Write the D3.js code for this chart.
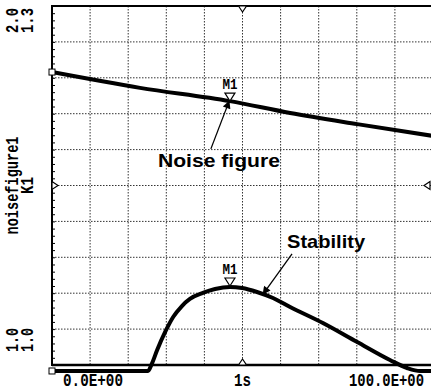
<!DOCTYPE html>
<html>
<head>
<meta charset="utf-8">
<script src="https://cdn.jsdelivr.net/npm/d3@7"></script>
<style>
  body { margin: 0; background: #fff; }
  svg { display: block; }
</style>
</head>
<body>
<svg id="chart"></svg>
<script>
// values (x in percent of the sweep)
var sweepX = [0, 25.2, 26.2, 27.6, 29.7, 31.8, 34.1, 36.2, 39.6, 42.8, 46.7, 49.9, 53.8, 58.0, 62.5, 71.1, 80.1, 88.7, 93.2, 96.6, 100]
var stabilityK = [0.995, 0.995, 1.001, 1.0125, 1.0276, 1.0401, 1.0493, 1.0552, 1.0602, 1.0635, 1.0652, 1.0643, 1.0610, 1.0560, 1.0485, 1.0351, 1.0192, 1.0042, 0.9975, 0.995, 0.995]
var noiseX = [0, 23.1, 46.7, 62.5, 80.1, 100]
var noiseNF = [1.816, 1.772, 1.735, 1.702, 1.671, 1.638]
var markerX = 46.7
var xTickValues = [0, 50, 100]
var xTickLabels = ["0.0E+00", "1s", "100.0E+00"]
var nfLabels = ["1.0", "2.0"]
var kLabels = ["1.0", "1.3"]

var width = 431
var height = 392
var dims = { left: 52, right: 433, top: 6, bottom: 365 }

var svg = d3.select("#chart")
  .attr("width", width)
  .attr("height", height)

var x = d3.scaleLinear().domain([0, 100]).range([dims.left, dims.right])
var yNF = d3.scaleLinear().domain([1, 2]).range([dims.bottom, dims.top])
var yK = d3.scaleLinear().domain([1, 1.3]).range([dims.bottom, dims.top])

// grid
svg.append("g").selectAll("line")
  .data(d3.range(10, 100, 10))
  .enter().append("line")
  .attr("x1", d => x(d)).attr("x2", d => x(d))
  .attr("y1", dims.top).attr("y2", dims.bottom)
  .attr("stroke", "#333").attr("stroke-width", 1)
  .attr("stroke-dasharray", "1.5,1.5")

svg.append("g").selectAll("line")
  .data(d3.range(1.1, 2.0, 0.1))
  .enter().append("line")
  .attr("x1", dims.left).attr("x2", width)
  .attr("y1", d => yNF(d)).attr("y2", d => yNF(d))
  .attr("stroke", "#333").attr("stroke-width", 1)
  .attr("stroke-dasharray", "1.5,1.5")

// frame
svg.append("line").attr("x1", dims.left).attr("x2", width)
  .attr("y1", dims.top).attr("y2", dims.top)
  .attr("stroke", "#000").attr("stroke-width", 2)
svg.append("line").attr("x1", dims.left).attr("x2", width)
  .attr("y1", dims.bottom).attr("y2", dims.bottom)
  .attr("stroke", "#000").attr("stroke-width", 2.5)
svg.append("line").attr("x1", dims.left).attr("x2", dims.left)
  .attr("y1", dims.top - 1).attr("y2", dims.bottom + 1)
  .attr("stroke", "#000").attr("stroke-width", 2)

// minor ticks on left axis
var minor = svg.append("g")
  .attr("transform", `translate(${dims.left},0)`)
  .call(d3.axisRight(yNF).ticks(50).tickSize(3).tickFormat(""))
minor.select(".domain").remove()
minor.selectAll("line").attr("stroke", "#000")

// centre markers on the frame
var cx = x(50), cy = yNF(1.5)
var centreMarks = [
  `M${dims.left},${cy - 4}L${dims.left + 6},${cy}L${dims.left},${cy + 4}Z`,
  `M${width - 1},${cy - 4}L${width - 7},${cy}L${width - 1},${cy + 4}Z`,
  `M${cx - 4},${dims.bottom}L${cx},${dims.bottom - 6}L${cx + 4},${dims.bottom}Z`,
  `M${cx - 4},${dims.top}L${cx},${dims.top + 6}L${cx + 4},${dims.top}Z`
]
svg.append("g").selectAll("path")
  .data(centreMarks)
  .enter().append("path")
  .attr("d", d => d)
  .attr("fill", "#fff").attr("stroke", "#000").attr("stroke-width", 1.2)

// curves
var noiseData = noiseX.map((d, i) => [d, noiseNF[i]])
var stabData = sweepX.map((d, i) => [d, stabilityK[i]])

svg.append("path")
  .datum(noiseData)
  .attr("fill", "none").attr("stroke", "#000").attr("stroke-width", 4)
  .attr("d", d3.line().x(d => x(d[0])).y(d => yNF(d[1])).curve(d3.curveMonotoneX))

svg.append("path")
  .datum(stabData)
  .attr("fill", "none").attr("stroke", "#000").attr("stroke-width", 4)
  .attr("stroke-linejoin", "round")
  .attr("d", d3.line().x(d => x(d[0])).y(d => yK(d[1])).curve(d3.curveMonotoneX))

// start / end boxes
svg.append("rect").attr("x", x(0) - 3).attr("y", yNF(noiseNF[0]) - 3)
  .attr("width", 6).attr("height", 6).attr("fill", "#fff").attr("stroke", "#000")
svg.append("rect").attr("x", x(0) - 3).attr("y", yK(stabilityK[0]) - 3)
  .attr("width", 6).attr("height", 6).attr("fill", "#fff").attr("stroke", "#000")

// M1 markers
var mNF = d3.scaleLinear().domain(noiseX).range(noiseNF)(markerX)
var mK = stabilityK[sweepX.indexOf(markerX)]
var markers = [[x(markerX), yNF(mNF)], [x(markerX), yK(mK) - 1]]
var mg = svg.append("g").selectAll("g").data(markers).enter().append("g")
mg.append("path")
  .attr("d", d => `M${d[0] - 5},${d[1] - 8}L${d[0] + 5},${d[1] - 8}L${d[0]},${d[1]}Z`)
  .attr("fill", "#fff").attr("stroke", "#000").attr("stroke-width", 1.2)
mg.append("text")
  .attr("x", d => d[0]).attr("y", d => d[1] - 12)
  .attr("text-anchor", "middle")
  .attr("font-family", "Liberation Mono").attr("font-weight", "bold")
  .attr("font-size", 15)
  .attr("textLength", 15).attr("lengthAdjust", "spacingAndGlyphs")
  .text("M1")

// annotations with arrows
svg.append("defs").append("marker")
  .attr("id", "head").attr("viewBox", "0 0 10 10")
  .attr("refX", 9).attr("refY", 5)
  .attr("markerWidth", 11).attr("markerHeight", 8)
  .attr("markerUnits", "userSpaceOnUse")
  .attr("orient", "auto")
  .append("path").attr("d", "M0,0L10,5L0,10Z").attr("fill", "#000")

svg.append("line")
  .attr("x1", x(41.7)).attr("y1", yNF(1.602))
  .attr("x2", x(46.5)).attr("y2", yNF(1.735))
  .attr("stroke", "#000").attr("stroke-width", 1.3)
  .attr("marker-end", "url(#head)")
svg.append("line")
  .attr("x1", x(63.0)).attr("y1", yK(1.0928))
  .attr("x2", x(55.4)).attr("y2", yK(1.0593))
  .attr("stroke", "#000").attr("stroke-width", 1.3)
  .attr("marker-end", "url(#head)")

svg.append("text")
  .attr("x", x(27.8)).attr("y", yNF(1.5515))
  .attr("font-family", "Liberation Sans").attr("font-weight", "bold")
  .attr("font-size", 18)
  .attr("textLength", 122).attr("lengthAdjust", "spacingAndGlyphs")
  .text("Noise figure")
svg.append("text")
  .attr("x", x(61.7)).attr("y", yK(1.0978))
  .attr("font-family", "Liberation Sans").attr("font-weight", "bold")
  .attr("font-size", 19)
  .attr("textLength", 78).attr("lengthAdjust", "spacingAndGlyphs")
  .text("Stability")

// x tick labels
var anchors = ["start", "middle", "end"]
var offsets = [11, 0, -9]
var lens = [60, 17, 75]
svg.append("g").selectAll("text")
  .data(xTickValues)
  .enter().append("text")
  .attr("x", (d, i) => x(d) + offsets[i])
  .attr("y", 386)
  .attr("text-anchor", (d, i) => anchors[i])
  .attr("font-family", "Liberation Mono").attr("font-weight", "bold")
  .attr("font-size", 18)
  .attr("textLength", (d, i) => lens[i]).attr("lengthAdjust", "spacingAndGlyphs")
  .text((d, i) => xTickLabels[i])

// rotated y labels
function vtext(tx, ty, anchor, len, str) {
  svg.append("text")
    .attr("transform", `translate(${tx},${ty}) rotate(-90)`)
    .attr("text-anchor", anchor)
    .attr("font-family", "Liberation Mono").attr("font-weight", "bold")
    .attr("font-size", 19)
    .attr("textLength", len).attr("lengthAdjust", "spacingAndGlyphs")
    .text(str)
}
vtext(18, yNF(2) + 2, "end", 25, nfLabels[1])
vtext(33, yK(1.3) + 2, "end", 25, kLabels[1])
vtext(18, yNF(1.5), "middle", 98, "noisefigure1")
vtext(33, yK(1.15), "middle", 17, "K1")
vtext(18, yNF(1) - 13, "start", 24, nfLabels[0])
vtext(33, yK(1) - 13, "start", 24, kLabels[0])
</script>
</body>
</html>
